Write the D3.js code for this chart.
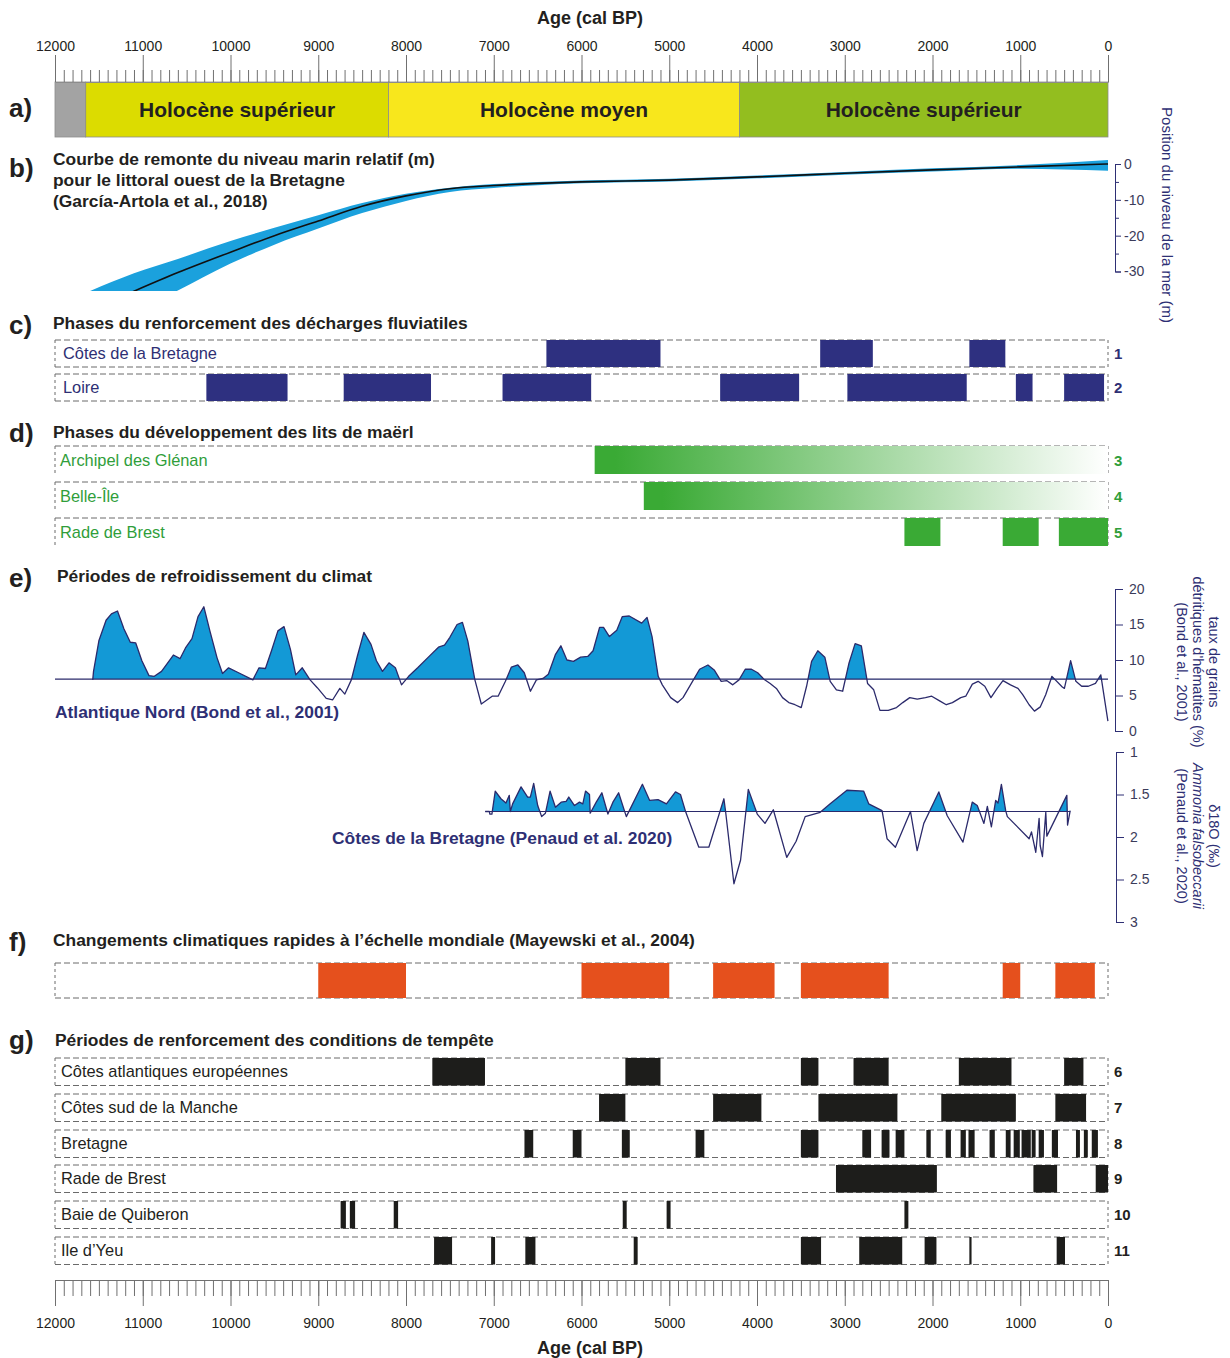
<!DOCTYPE html>
<html>
<head>
<meta charset="utf-8">
<script src="https://cdn.jsdelivr.net/npm/d3@7"></script>
<style>
body { margin: 0; background: #fff; }
</style>
</head>
<body>
<div class="d3-canvas"></div>
<script>
const WIDTH = 1230;
const HEIGHT = 1358;
const X_LEFT = 55;
const X_RIGHT = 1108;

// ---- data ----
const ageTicks = d3.range(0, 12001, 1000);
const ageMinorTicks = d3.range(0, 12001, 100);

const epochNames = ['', 'Holocène supérieur', 'Holocène moyen', 'Holocène supérieur'];
const epochBounds = [[12000, 11650], [11650, 8200], [8200, 4200], [4200, 0]];

// relative sea level (m), García-Artola et al. 2018
const seaLevelAge  = [11700, 11100, 10600, 10000, 9500, 9000, 8500, 8000, 7500, 7000, 6500, 6000, 5000, 4000, 3000, 2000, 1000, 0];
const seaLevelMid  = [-42, -35.5, -30.3, -24.6, -20.0, -15.9, -11.8, -8.9, -6.9, -6.0, -5.4, -5.0, -4.5, -3.6, -2.6, -1.65, -0.8, 0];
const seaLevelHigh = [-36.5, -30.5, -26.5, -21.5, -17.8, -14.3, -10.9, -8.3, -6.6, -5.6, -5.0, -4.6, -4.1, -3.2, -2.2, -1.2, -0.3, 1.1];
const seaLevelLow  = [-48, -41, -35.3, -27.8, -22.5, -18.0, -13.7, -10.3, -7.8, -6.7, -5.9, -5.4, -4.9, -4.0, -3.0, -2.1, -1.3, -1.9];
const seaLevelTicks = [0, -10, -20, -30];
const seaLevelMinor = [-5, -15, -25];

const fluvialRows = ['Côtes de la Bretagne', 'Loire'];
const fluvialPhases = [
    [[6400, 5100], [3280, 2680], [1580, 1170]],
    [[10275, 9350], [8710, 7715], [6900, 5890], [4420, 3520], [2970, 1610], [1050, 860], [500, 45]]
];

const maerlRows = ['Archipel des Glénan', 'Belle-Île', 'Rade de Brest'];
const maerlPhases = [
    [[5850, 0]],
    [[5290, 0]],
    [[2320, 1910], [1200, 790], [560, 0]]
];
const maerlFading = [true, true, false];

// hematite-stained grains (%), Bond et al. 2001
const bondAge = [11570, 11561, 11500, 11418, 11357, 11288, 11215, 11142, 11080, 11010, 10929, 10868, 10786,
    10651, 10574, 10513, 10439, 10370, 10304, 10235, 10153, 10091, 10022, 9908, 9745, 9675, 9602, 9533, 9460,
    9390, 9317, 9256, 9182, 9093, 9011, 8909, 8835, 8754, 8697, 8623, 8553, 8480, 8399, 8337, 8268, 8194, 8121,
    8051, 7970, 7867, 7745, 7630, 7561, 7500, 7418, 7357, 7296, 7215, 7142, 7018, 6950, 6867, 6799, 6725, 6652,
    6582, 6514, 6439, 6378, 6296, 6235, 6166, 6092, 6010, 5929, 5868, 5794, 5749, 5682, 5598, 5536, 5456, 5314,
    5253, 5196, 5126, 5079, 4984, 4904, 4843, 4748, 4654, 4559, 4488, 4408, 4346, 4276, 4205, 4134, 4063, 3992,
    3921, 3850, 3779, 3709, 3638, 3567, 3496, 3435, 3378, 3307, 3227, 3166, 3095, 3024, 2953, 2882, 2811, 2740,
    2670, 2599, 2504, 2410, 2339, 2259, 2174, 2080, 2009, 1914, 1843, 1773, 1678, 1621, 1546, 1480, 1404, 1334,
    1263, 1197, 1111, 1026, 970, 899, 838, 771, 710, 639, 521, 497, 426, 366, 300, 224, 143, 82, 1];
const bondValue = [7.2, 8.4, 12.7, 15.6, 16.5, 16.9, 14.4, 12.5, 12.4, 9.9, 7.8, 7.7, 8.4,
    10.7, 10.2, 11.7, 13.0, 16.1, 17.5, 14.1, 10.3, 8.1, 8.9, 8.2, 7.2, 8.9, 8.8, 11.3, 14.1,
    14.7, 11.5, 7.9, 8.9, 7.2, 6.1, 4.6, 4.4, 6.0, 5.2, 7.2, 10.6, 13.9, 12.2, 9.9, 8.4, 9.6, 8.9,
    6.5, 7.7, 8.9, 10.4, 11.8, 12.1, 13.2, 15.0, 15.3, 12.7, 7.2, 3.8, 4.9, 4.9, 7.0, 9.0, 9.3, 8.2,
    5.6, 7.2, 7.4, 8.0, 10.8, 12.0, 10.0, 9.8, 10.4, 10.5, 11.3, 14.6, 14.6, 13.3, 14.2, 16.1, 16.2, 15.2,
    16.0, 13.3, 7.7, 6.5, 4.7, 4.0, 4.7, 6.7, 8.7, 9.3, 8.6, 7.0, 7.1, 6.5, 7.2, 8.7, 8.7, 8.2,
    7.3, 6.7, 6.0, 4.7, 4.0, 3.7, 3.3, 6.3, 9.8, 11.3, 10.4, 7.0, 5.8, 5.6, 9.5, 12.3, 12.0, 6.7,
    5.8, 2.9, 2.9, 3.3, 4.0, 4.7, 4.5, 4.7, 4.9, 4.2, 3.7, 4.0, 4.7, 4.9, 6.6, 7.0, 6.3, 4.7,
    6.0, 7.1, 6.5, 6.0, 5.1, 3.7, 2.8, 3.4, 5.1, 7.7, 6.2, 6.0, 9.9, 7.0, 6.3, 6.3, 6.7, 7.9, 1.4];
const bondBase = 7.3;
const bondTicks = [0, 5, 10, 15, 20];

// d18O Ammonia falsobeccarii (permil), Penaud et al. 2020
const penaudAge = [7097, 7050, 7044, 7021, 6983, 6918, 6861, 6823, 6811, 6785, 6689, 6614, 6583, 6545, 6499,
    6454, 6411, 6358, 6297, 6232, 6175, 6145, 6080, 6023, 5985, 5954, 5909, 5901, 5832, 5768, 5699, 5642, 5577,
    5489, 5306, 5223, 5128, 5032, 4929, 4872, 4811, 4663, 4549, 4377, 4358, 4263, 4187, 4099, 3997, 3909, 3814,
    3661, 3554, 3451, 3280, 3166, 2975, 2785, 2727, 2575, 2518, 2423, 2251, 2175, 2099, 1928, 1832, 1653, 1547,
    1490, 1414, 1375, 1329, 1280, 1253, 1215, 1166, 1147, 899, 872, 823, 785, 773, 747, 709, 697, 469, 461, 431];
const penaudValue = [1.70, 1.70, 1.73, 1.73, 1.46, 1.55, 1.60, 1.51, 1.70, 1.61, 1.41, 1.53, 1.53, 1.37, 1.63,
    1.76, 1.72, 1.46, 1.65, 1.59, 1.58, 1.53, 1.63, 1.59, 1.61, 1.46, 1.50, 1.72, 1.59, 1.48, 1.73, 1.59, 1.48,
    1.76, 1.38, 1.57, 1.56, 1.61, 1.47, 1.50, 1.71, 2.12, 2.12, 1.55, 1.70, 2.55, 2.27, 1.44, 1.73, 1.84, 1.68,
    2.24, 2.05, 1.76, 1.71, 1.61, 1.45, 1.46, 1.61, 1.69, 2.02, 2.12, 1.70, 2.16, 1.84, 1.47, 1.75, 2.06, 1.59,
    1.63, 1.84, 1.64, 1.88, 1.57, 1.60, 1.38, 1.69, 1.76, 2.02, 1.94, 2.18, 1.78, 2.10, 2.23, 1.71, 1.99, 1.51, 1.86, 1.69];
const penaudBase = 1.7;
const penaudTicks = [1, 1.5, 2, 2.5, 3];

// rapid climate change events, Mayewski et al. 2004
const rccPhases = [[9000, 8000], [6000, 5000], [4500, 3800], [3500, 2500], [1200, 1000], [600, 150]];

const stormRows = ['Côtes atlantiques européennes', 'Côtes sud de la Manche', 'Bretagne',
    'Rade de Brest', 'Baie de Quiberon', 'Ile d’Yeu'];
const stormPhases = [
    [[7700, 7100], [5500, 5100], [3500, 3300], [2900, 2500], [1700, 1100], [500, 280]],
    [[5800, 5500], [4500, 3950], [3300, 2400], [1900, 1050], [600, 250]],
    [[6650, 6550], [6100, 6000], [5540, 5450], [4700, 4600], [3500, 3300], [2800, 2700], [2580, 2490],
     [2420, 2320], [2070, 2020], [1850, 1790], [1680, 1620], [1590, 1520], [1350, 1290], [1165, 1110],
     [1075, 1005], [985, 880], [870, 825], [790, 730], [640, 570], [365, 320], [275, 230], [185, 115]],
    [[3100, 1950], [850, 580], [140, 0]],
    [[8745, 8685], [8640, 8580], [8140, 8090], [5530, 5485], [5030, 4985], [2320, 2275]],
    [[7680, 7475], [7030, 6985], [6640, 6525], [5405, 5360], [3500, 3270], [2835, 2345], [2090, 1955],
     [1580, 1555], [585, 490]]
];

// ---- styles ----
const FONT = '"Liberation Sans", Arial, Helvetica, sans-serif';
const INK = '#231f20';
const NAVY = '#2e3080';
const NAVY_TEXT = '#2e2f74';
const LINE_NAVY = '#2b2a6b';
const GREEN = '#3aaa35';
const GREEN_TEXT = '#2f9e3a';
const ORANGE = '#e5501d';
const BAR_BLACK = '#1d1d1b';
const BLUE_FILL = '#1399d6';
const epochColors = ['#a3a3a3', '#dcdc00', '#f8e71c', '#93be1f'];

const TITLE_SIZE = 17.4;
const ROW_SIZE = 16.4;

const svg = d3.select('.d3-canvas')
    .append('svg')
        .attr('width', WIDTH)
        .attr('height', HEIGHT)
        .attr('font-family', FONT);

const defs = svg.append('defs');

const x = d3.scaleLinear()
    .domain([12000, 0])
    .range([X_LEFT, X_RIGHT]);

function label(px, py, str, opts = {}) {
    return svg.append('text')
        .attr('x', px)
        .attr('y', py)
        .attr('font-size', opts.size || ROW_SIZE)
        .attr('font-weight', opts.bold ? 'bold' : 'normal')
        .attr('font-style', opts.italic ? 'italic' : 'normal')
        .attr('text-anchor', opts.anchor || 'start')
        .attr('fill', opts.color || INK)
        .text(str);
}

// rotated (top-to-bottom) axis titles, first line on the right
function rotatedTitle(lines, xs, cy, color, size, italicIndex) {
    lines.forEach((str, i) => {
        svg.append('text')
            .attr('transform', `translate(${xs[i] - 5}, ${cy}) rotate(90)`)
            .attr('text-anchor', 'middle')
            .attr('font-size', size)
            .attr('font-style', i === italicIndex ? 'italic' : 'normal')
            .attr('fill', color)
            .text(str);
    });
}

function styleAxis(g, lineColor, textColor, size) {
    g.selectAll('g').attr('font-family', FONT).attr('font-size', size);
    g.attr('font-family', FONT).attr('font-size', size);
    g.selectAll('.tick line').attr('stroke', lineColor);
    g.selectAll('.domain').attr('stroke', lineColor);
    g.selectAll('text').attr('fill', textColor).attr('font-size', size).attr('font-family', FONT);
}

// ---- top axis + panel a ----
label(590, 24, 'Age (cal BP)', {bold: true, size: 18, anchor: 'middle'});

const epochs = epochNames.map((n, i) => ({name: n, from: epochBounds[i][0], to: epochBounds[i][1]}));
svg.append('g').selectAll('rect')
    .data(epochs)
    .enter()
    .append('rect')
        .attr('x', d => x(d.from))
        .attr('width', d => x(d.to) - x(d.from))
        .attr('y', 82)
        .attr('height', 55)
        .attr('fill', (d, i) => epochColors[i])
        .attr('stroke', '#8c8c8c')
        .attr('stroke-width', 0.8);
svg.append('g').selectAll('text')
    .data(epochs.filter(d => d.name))
    .enter()
    .append('text')
        .attr('x', d => (x(d.from) + x(d.to)) / 2)
        .attr('y', 117)
        .attr('text-anchor', 'middle')
        .attr('font-size', 21)
        .attr('font-weight', 'bold')
        .attr('fill', INK)
        .text(d => d.name);

const topAxis = svg.append('g').attr('transform', 'translate(0, 82)');
topAxis.call(d3.axisTop(x).tickValues(ageMinorTicks).tickSize(12).tickSizeOuter(0).tickFormat(''));
topAxis.append('g').call(d3.axisTop(x).tickValues(ageTicks).tickSize(27).tickSizeOuter(0).tickPadding(4).tickFormat(d3.format('d')));
styleAxis(topAxis, '#707070', INK, 14);
topAxis.selectAll('.domain').attr('stroke', '#8c8c8c');

// ---- panel letters & titles ----
const panelLetters = [['a)', 117], ['b)', 177], ['c)', 334], ['d)', 442], ['e)', 587], ['f)', 951], ['g)', 1049]];
panelLetters.forEach(([t, py]) => label(9, py, t, {bold: true, size: 26}));

label(53, 165, 'Courbe de remonte du niveau marin relatif (m)', {bold: true, size: TITLE_SIZE});
label(53, 186, 'pour le littoral ouest de la Bretagne', {bold: true, size: TITLE_SIZE});
label(53, 207, '(García-Artola et al., 2018)', {bold: true, size: TITLE_SIZE});
label(53, 329, 'Phases du renforcement des décharges fluviatiles', {bold: true, size: TITLE_SIZE});
label(53, 438, 'Phases du développement des lits de maërl', {bold: true, size: TITLE_SIZE});
label(57, 582, 'Périodes de refroidissement du climat', {bold: true, size: TITLE_SIZE});
label(53, 946, 'Changements climatiques rapides à l’échelle mondiale (Mayewski et al., 2004)', {bold: true, size: TITLE_SIZE});
label(55, 1046, 'Périodes de renforcement des conditions de tempête', {bold: true, size: TITLE_SIZE});

// ---- panel b: sea level ----
const ySL = d3.scaleLinear().domain([-30, 0]).range([271.5, 164]);
const seaLevel = seaLevelAge.map((a, i) => ({age: a, mid: seaLevelMid[i], high: seaLevelHigh[i], low: seaLevelLow[i]}));

defs.append('clipPath').attr('id', 'slClip')
    .append('rect').attr('x', X_LEFT).attr('y', 140).attr('width', X_RIGHT - X_LEFT + 4).attr('height', 151);

const slGroup = svg.append('g').attr('clip-path', 'url(#slClip)');
slGroup.append('path')
    .datum(seaLevel)
    .attr('d', d3.area()
        .x(d => x(d.age))
        .y0(d => ySL(d.low))
        .y1(d => ySL(d.high))
        .curve(d3.curveMonotoneX))
    .attr('fill', '#1ba1dd');
slGroup.append('path')
    .datum(seaLevel)
    .attr('d', d3.line()
        .x(d => x(d.age))
        .y(d => ySL(d.mid))
        .curve(d3.curveMonotoneX))
    .attr('fill', 'none')
    .attr('stroke', '#111')
    .attr('stroke-width', 1.6);

const slAxis = svg.append('g').attr('transform', 'translate(1115, 0)');
slAxis.call(d3.axisRight(ySL).tickValues(seaLevelTicks).tickSize(6).tickPadding(3).tickFormat(d => String(d)));
slAxis.append('g').call(d3.axisRight(ySL).tickValues(seaLevelMinor).tickSize(4).tickSizeOuter(0).tickFormat(''));
styleAxis(slAxis, NAVY_TEXT, '#3b3b5a', 14);
rotatedTitle(['Position du niveau de la mer (m)'], [1167], 215, NAVY_TEXT, 15);

// ---- row panels (c, d, f, g) ----
const fade = defs.append('linearGradient').attr('id', 'maerlFade').attr('x1', 0).attr('x2', 1).attr('y1', 0).attr('y2', 0);
fade.append('stop').attr('offset', 0).attr('stop-color', GREEN);
fade.append('stop').attr('offset', 0.04).attr('stop-color', GREEN);
fade.append('stop').attr('offset', 1).attr('stop-color', '#ffffff');

function dashed(g, x1, y1, x2, y2, dash) {
    g.append('line')
        .attr('x1', x1).attr('y1', y1).attr('x2', x2).attr('y2', y2)
        .attr('stroke', '#6a6a6a')
        .attr('stroke-width', 1)
        .attr('stroke-dasharray', dash || '6,3');
}

function drawRows(opt) {
    const g = svg.append('g');
    opt.tops.forEach((top, i) => {
        dashed(g, X_LEFT, top, X_RIGHT, top);
        if (opt.closed) dashed(g, X_LEFT, top + opt.h, X_RIGHT, top + opt.h);
        dashed(g, X_LEFT, top, X_LEFT, top + opt.h, '3,3');
        dashed(g, X_RIGHT, top, X_RIGHT, top + opt.h, '3,3');

        g.append('g').selectAll('rect')
            .data(opt.phases[i])
            .enter()
            .append('rect')
                .attr('x', d => x(d[0]))
                .attr('width', d => x(d[1]) - x(d[0]))
                .attr('y', top)
                .attr('height', opt.h)
                .attr('fill', opt.fading && opt.fading[i] ? 'url(#maerlFade)' : opt.color);

        const cy = top + opt.h / 2 + 5.5;
        if (opt.labels) label(opt.labelX, cy, opt.labels[i], {color: opt.textColor});
        if (opt.numbers) label(1114, cy, opt.numbers[i], {bold: true, size: 15, color: opt.textColor});
    });
}

drawRows({
    tops: [340, 374], h: 27, closed: true,
    phases: fluvialPhases, labels: fluvialRows, numbers: ['1', '2'],
    color: NAVY, textColor: NAVY_TEXT, labelX: 63
});

drawRows({
    tops: [446, 482, 518], h: 28, closed: false,
    phases: maerlPhases, labels: maerlRows, numbers: ['3', '4', '5'], fading: maerlFading,
    color: GREEN, textColor: GREEN_TEXT, labelX: 60
});

drawRows({
    tops: [963], h: 35, closed: true,
    phases: [rccPhases], color: ORANGE
});

drawRows({
    tops: [1058, 1094, 1130, 1165, 1201, 1237], h: 27.5, closed: true,
    phases: stormPhases, labels: stormRows, numbers: ['6', '7', '8', '9', '10', '11'],
    color: BAR_BLACK, textColor: INK, labelX: 61
});

// ---- panel e: Bond ----
const yBond = d3.scaleLinear().domain([0, 20]).range([731, 589]);
const bond = bondAge.map((a, i) => ({age: a, v: bondValue[i]}));

defs.append('clipPath').attr('id', 'bondClip')
    .append('rect').attr('x', 0).attr('y', 560).attr('width', WIDTH).attr('height', yBond(bondBase) - 560);

svg.append('path')
    .datum(bond)
    .attr('d', d3.area().x(d => x(d.age)).y0(yBond(bondBase)).y1(d => yBond(d.v)))
    .attr('fill', BLUE_FILL)
    .attr('clip-path', 'url(#bondClip)');
svg.append('line')
    .attr('x1', x(12000)).attr('x2', x(0))
    .attr('y1', yBond(bondBase)).attr('y2', yBond(bondBase))
    .attr('stroke', LINE_NAVY).attr('stroke-width', 1.2);
svg.append('path')
    .datum(bond)
    .attr('d', d3.line().x(d => x(d.age)).y(d => yBond(d.v)))
    .attr('fill', 'none')
    .attr('stroke', LINE_NAVY)
    .attr('stroke-width', 1.3)
    .attr('stroke-linejoin', 'round');

const bondAxis = svg.append('g').attr('transform', 'translate(1115, 0)');
bondAxis.call(d3.axisRight(yBond).tickValues(bondTicks).tickSize(8).tickSizeOuter(0).tickPadding(6));
styleAxis(bondAxis, NAVY_TEXT, '#3b3b5a', 14);
label(55, 718, 'Atlantique Nord (Bond et al., 2001)', {bold: true, size: TITLE_SIZE, color: NAVY_TEXT});
rotatedTitle(['taux de grains', 'détritiques d\'hématites (%)', '(Bond et al., 2001)'], [1214, 1198, 1182], 662, NAVY_TEXT, 14.5);

// ---- panel e: Penaud ----
const yPen = d3.scaleLinear().domain([1, 3]).range([752, 922]);
const penaud = penaudAge.map((a, i) => ({age: a, v: penaudValue[i]}));

defs.append('clipPath').attr('id', 'penClip')
    .append('rect').attr('x', 0).attr('y', 740).attr('width', WIDTH).attr('height', yPen(penaudBase) - 740);

svg.append('path')
    .datum(penaud)
    .attr('d', d3.area().x(d => x(d.age)).y0(yPen(penaudBase)).y1(d => yPen(d.v)))
    .attr('fill', BLUE_FILL)
    .attr('clip-path', 'url(#penClip)');
svg.append('line')
    .attr('x1', x(d3.max(penaudAge))).attr('x2', x(d3.min(penaudAge)))
    .attr('y1', yPen(penaudBase)).attr('y2', yPen(penaudBase))
    .attr('stroke', LINE_NAVY).attr('stroke-width', 1.2);
svg.append('path')
    .datum(penaud)
    .attr('d', d3.line().x(d => x(d.age)).y(d => yPen(d.v)))
    .attr('fill', 'none')
    .attr('stroke', LINE_NAVY)
    .attr('stroke-width', 1.3)
    .attr('stroke-linejoin', 'round');

const penAxis = svg.append('g').attr('transform', 'translate(1116, 0)');
penAxis.call(d3.axisRight(yPen).tickValues(penaudTicks).tickSize(8).tickSizeOuter(0).tickPadding(6).tickFormat(d => String(d)));
styleAxis(penAxis, NAVY_TEXT, '#3b3b5a', 14);
label(332, 844, 'Côtes de la Bretagne (Penaud et al. 2020)', {bold: true, size: TITLE_SIZE, color: NAVY_TEXT});
rotatedTitle(['δ18O (‰)', 'Ammonia falsobeccarii', '(Penaud et al., 2020)'], [1214, 1198, 1182], 836, NAVY_TEXT, 14.5, 1);

// ---- bottom axis ----
const bottomAxis = svg.append('g').attr('transform', 'translate(0, 1280)');
bottomAxis.call(d3.axisBottom(x).tickValues(ageMinorTicks).tickSize(16).tickSizeOuter(0).tickFormat(''));
bottomAxis.append('g').call(d3.axisBottom(x).tickValues(ageTicks).tickSize(26).tickSizeOuter(0).tickPadding(12).tickFormat(d3.format('d')));
styleAxis(bottomAxis, '#707070', INK, 14);
label(590, 1354, 'Age (cal BP)', {bold: true, size: 18, anchor: 'middle'});
</script>
</body>
</html>
